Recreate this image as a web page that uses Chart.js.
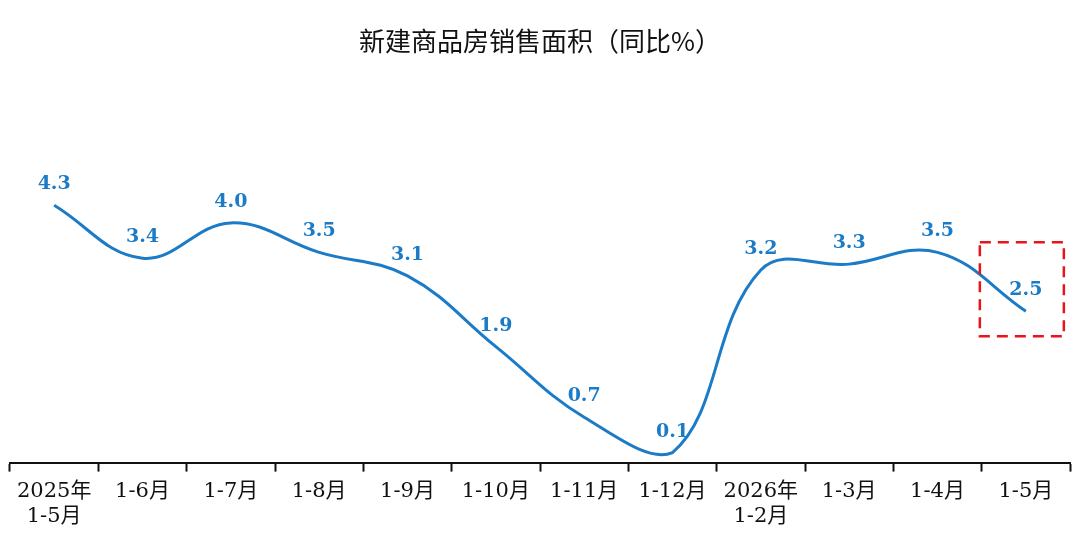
<!DOCTYPE html>
<html>
<head>
<meta charset="utf-8">
<script src="https://cdn.jsdelivr.net/npm/chart.js@4.4.1/dist/chart.umd.min.js"></script>
<style>
  html, body { margin: 0; padding: 0; background: #fff; }
  #wrap { width: 1080px; height: 552px; }
</style>
</head>
<body>
<div id="wrap"><canvas id="myChart"></canvas></div>
<script>
// 新建商品房销售面积 同比
const categories = [
  ['2025年', '1-5月'], '1-6月', '1-7月', '1-8月', '1-9月', '1-10月',
  '1-11月', '1-12月', ['2026年', '1-2月'], '1-3月', '1-4月', '1-5月'
];
const salesArea = [4.3, 3.4, 4.0, 3.5, 3.1, 1.9, 0.7, 0.1, 3.2, 3.3, 3.5, 2.5];
const highlightIndex = [11];

const lineColor = '#1b7bc6';
const serif = '"DejaVu Serif", "Liberation Serif", "Noto Sans CJK SC", serif';

// labels above each point
const valueLabels = {
  id: 'valueLabels',
  afterDatasetsDraw(chart) {
    const ctx = chart.ctx;
    const meta = chart.getDatasetMeta(0);
    ctx.save();
    ctx.font = 'bold 19px ' + serif;
    ctx.fillStyle = lineColor;
    ctx.textAlign = 'center';
    ctx.textBaseline = 'middle';
    meta.data.forEach((pt, i) => {
      ctx.fillText(salesArea[i].toFixed(1), pt.x, pt.y - 21);
    });
    ctx.restore();
  }
};

// red dashed box around the latest value
const highlightBox = {
  id: 'highlightBox',
  afterDraw(chart) {
    const ctx = chart.ctx;
    const meta = chart.getDatasetMeta(0);
    ctx.save();
    ctx.strokeStyle = '#e8141b';
    ctx.lineWidth = 2.5;
    ctx.setLineDash([11, 7]);
    highlightIndex.forEach((i) => {
      const pt = meta.data[i];
      ctx.strokeRect(pt.x - 46, pt.y - 69, 84, 94);
    });
    ctx.restore();
  }
};

let ctx = document.getElementById('myChart').getContext('2d');
let chart = new Chart(ctx, {
  type: 'line',
  data: {
    labels: categories,
    datasets: [{
      data: salesArea,
      borderColor: lineColor,
      borderWidth: 3,
      tension: 0.4,
      pointRadius: 0,
      fill: false,
      clip: false
    }]
  },
  options: {
    responsive: true,
    maintainAspectRatio: false,
    animation: false,
    layout: { padding: { top: 26, left: 10, right: 10, bottom: 16 } },
    plugins: {
      legend: { display: false },
      tooltip: { enabled: false },
      title: {
        display: true,
        text: '新建商品房销售面积（同比%）',
        color: '#111',
        font: { family: '"Noto Sans CJK SC", sans-serif', size: 26, weight: 'normal', lineHeight: 1.2 },
        padding: { top: 0, bottom: 32 }
      }
    },
    scales: {
      x: {
        offset: true,
        border: { display: true, color: '#111', width: 2 },
        grid: {
          offset: true,
          drawOnChartArea: false,
          drawTicks: true,
          tickLength: 9,
          tickWidth: 2,
          tickColor: '#111'
        },
        ticks: {
          color: '#111',
          padding: 7,
          maxRotation: 0,
          autoSkip: false,
          font: { family: serif, size: 21, lineHeight: 1.2 }
        }
      },
      y: {
        display: false,
        min: -0.07,
        max: 6.27
      }
    }
  },
  plugins: [valueLabels, highlightBox]
});
</script>
</body>
</html>
